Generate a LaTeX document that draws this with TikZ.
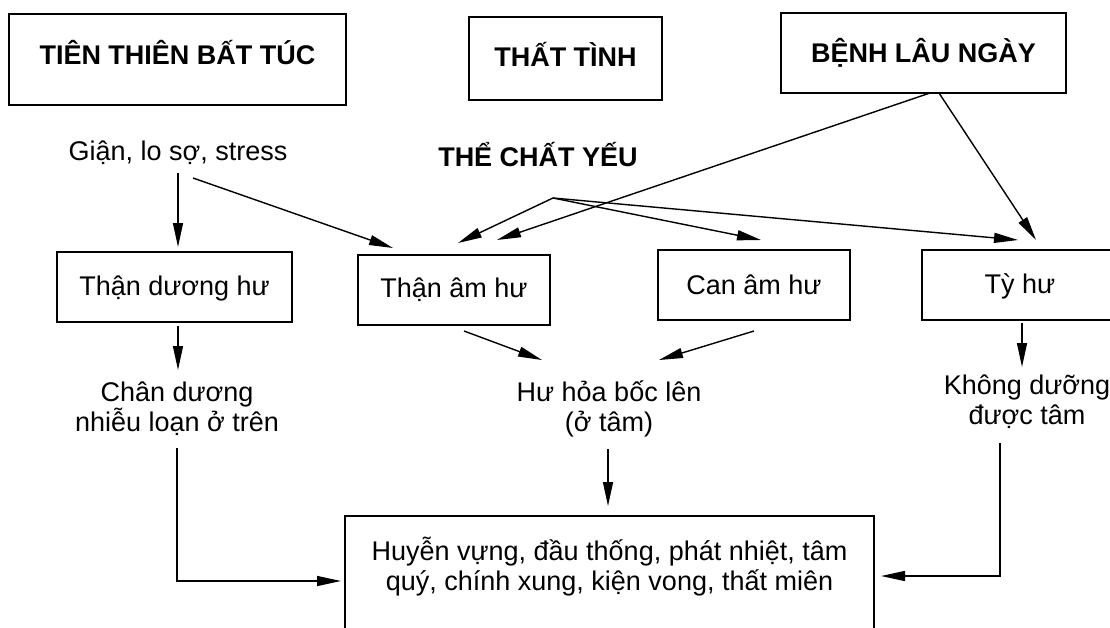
\documentclass[tikz,border=0pt]{standalone}
\usepackage{fontspec}
\setmainfont{Liberation Sans}
\usetikzlibrary{positioning,arrows.meta}
\newcommand{\diagfont}{\fontsize{27}{30}\selectfont}
\tikzstyle{causebox}=[rectangle, draw=black, line width=1.6pt, outer sep=0pt, font=\diagfont\bfseries]
\tikzstyle{organbox}=[rectangle, draw=black, line width=1.6pt, outer sep=0pt, minimum height=70pt, font=\diagfont]
\tikzstyle{effecttext}=[align=center, inner sep=0pt, font=\diagfont]
\tikzstyle{symptombox}=[rectangle, draw=black, line width=1.6pt, outer sep=0pt, align=center, font=\diagfont]
\tikzstyle{myarrow}=[-{Triangle[length=24pt,width=10pt]}, line width=1.4pt]

\begin{document}
\begin{tikzpicture}[x=1pt, y=-1pt]
\useasboundingbox (0,0) rectangle (1110,627);
\clip (0,0) rectangle (1110,627);

	% causes
	\node (tien) [causebox, minimum width=337pt, minimum height=91pt, text depth=14pt] at (177.5,59.5) {TIÊN THIÊN BẤT TÚC};
	\node (that) [causebox, minimum width=193pt, minimum height=83pt, text depth=8pt] at (565.5,58.5) {THẤT TÌNH};
	\node (benh) [causebox, minimum width=285pt, minimum height=80pt] at (923.5,53) {BỆNH LÂU NGÀY};

	\node (gian) [effecttext] at (178,153) {Giận, lo sợ, stress};
	\node (theChat) [effecttext, font=\diagfont\bfseries] at (538,155) {THỂ CHẤT YẾU};

	% organs
	\node (thanDuong) [organbox, minimum width=235pt, text depth=3pt] at (174.5,287) {Thận dương hư};
	\node (thanAm) [organbox, minimum width=192pt, right=66pt of thanDuong, yshift=-3pt] {Thận âm hư};
	\node (canAm) [organbox, minimum width=192pt, right=108pt of thanAm, yshift=5pt] {Can âm hư};
	\node (tyHu) [organbox, minimum width=196pt, right=72pt of canAm, text depth=3pt] {Tỳ hư};

	\node (chanDuong) [effecttext] at (177,409) {Chân dương\\nhiễu loạn ở trên};
	\node (huHoa) [effecttext] at (609,409) {Hư hỏa bốc lên\\(ở tâm)};
	\node (khong) [effecttext] at (1027,402) {Không dưỡng\\được tâm};

	% symptoms
	\node (trieuChung) [symptombox, minimum width=529pt, inner sep=0pt, text height=74pt, text depth=80pt, anchor=north] at (609.5,516)
		{Huyễn vựng, đầu thống, phát nhiệt, tâm\\quý, chính xung, kiện vong, thất miên};

\draw[myarrow] ([shift={(0,20)}]gian.center) -- ([shift={(3.5,-5)}]thanDuong.north);
\draw[myarrow] ([shift={(15,25)}]gian.center) -- ([shift={(-61,-7)}]thanAm.north);

\draw[myarrow] ([shift={(15,43)}]theChat.center) -- ([shift={(4,-12)}]thanAm.north);
\draw[myarrow] ([shift={(15,43)}]theChat.center) -- ([shift={(7,-10)}]canAm.north);
\draw[myarrow] ([shift={(15,43)}]theChat.center) -- ([shift={(-2,-10)}]tyHu.north);

\draw[myarrow] ([shift={(6.5,0)}]benh.south) -- ([shift={(43,-15)}]thanAm.north);
\draw[myarrow] ([shift={(15.5,0)}]benh.south) -- ([shift={(16,-10)}]tyHu.north);

\draw[myarrow] ([shift={(3.5,4)}]thanDuong.south) -- ([shift={(1,-39)}]chanDuong.center);
\draw[myarrow] ([shift={(10,6)}]thanAm.south) -- ([shift={(-67,-49)}]huHoa.center);
\draw[myarrow] ([shift={(0,11)}]canAm.south) -- ([shift={(50,-49)}]huHoa.center);
\draw[myarrow] ([shift={(2,3)}]tyHu.south) -- ([shift={(-5,-35)}]khong.center);

\draw[myarrow] ([shift={(0,39)}]chanDuong.center) |- ([shift={(-4,65)}]trieuChung.north west);
\draw[myarrow] ([shift={(-1,40)}]huHoa.center) -- ([shift={(-1.5,-10)}]trieuChung.north);
\draw[myarrow] ([shift={(-27,41)}]khong.center) |- ([shift={(7,60)}]trieuChung.north east);

\end{tikzpicture}
\end{document}
